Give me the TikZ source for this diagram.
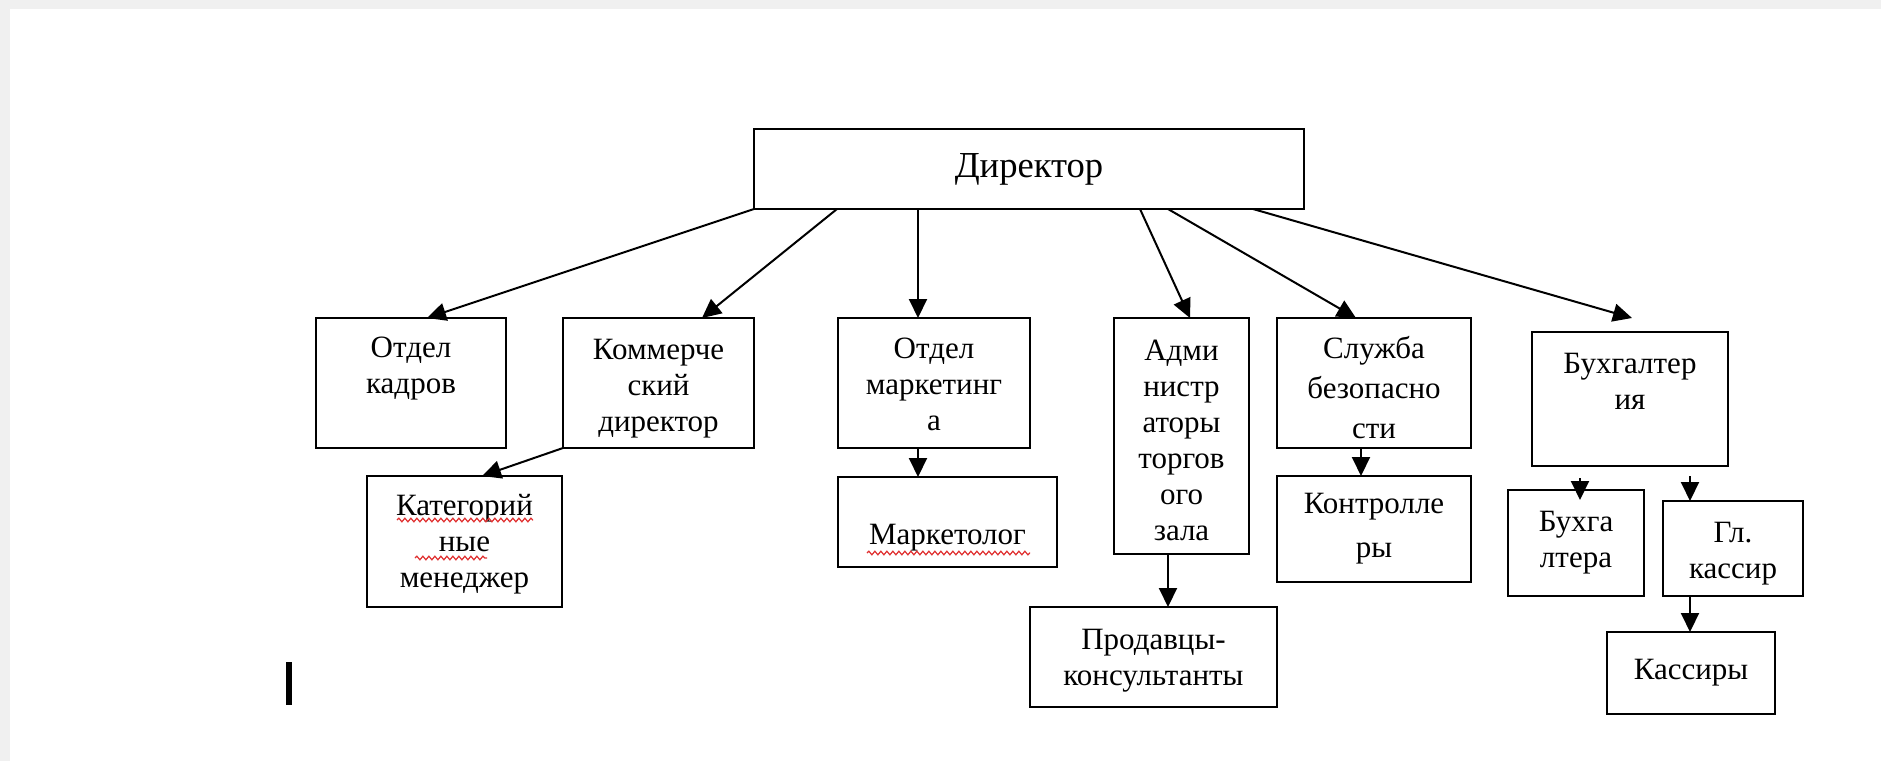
\documentclass[tikz,border=0pt]{standalone}
\usepackage{fontspec}
\setmainfont{Liberation Serif}
\usetikzlibrary{calc,arrows.meta,decorations.pathmorphing}
\definecolor{framegray}{HTML}{F0F0F0}
\definecolor{squigred}{HTML}{E03030}
\newcommand\tdown[1]{\rule{0pt}{#1}}
\begin{document}
\begin{tikzpicture}[x=0.5pt,y=-0.5pt,
  bx/.style={draw=black, line width=1.3pt, rectangle, inner sep=0pt, outer sep=0pt, align=center,
    font=\fontsize{15.5pt}{18pt}\selectfont},
  arr/.style={line width=1pt, -{Triangle[length=9.5pt,width=9pt]}},
  squig/.style={squigred, line width=0.6pt, decorate,
    decoration={snake, amplitude=0.9pt, segment length=3pt}}]
\useasboundingbox (0,0) rectangle (1881,761);
\fill[framegray] (0,0) rectangle (1881,761);
\fill[white] (10,9) rectangle (1881,761);

% boxes
\node[bx, minimum width=275pt, minimum height=40pt, font=\fontsize{18.3pt}{21pt}\selectfont] (dir) at (1029,169) {Директор};
\node[bx, minimum width=95pt, minimum height=65pt] (kadr) at (411,383) {Отдел\\кадров\\~};
\node[bx, minimum width=95.5pt, minimum height=65pt] (komm) at (658.5,383) {\tdown{15.3pt}Коммерче\\ский\\директор};
\node[bx, minimum width=97.5pt, minimum height=65.5pt] (kat) at (464.5,541.5) {\tdown{13.7pt}Категорий\\ные\\менеджер};
\node[bx, minimum width=96pt, minimum height=65pt] (mark) at (934,383) {\tdown{12pt}Отдел\\маркетинг\\а};
\node[bx, minimum width=109.5pt, minimum height=45pt] (mtol) at (947.5,522) {\tdown{26pt}Маркетолог};
\node[bx, minimum width=67.5pt, minimum height=118pt] (adm) at (1181.5,436) {\tdown{14.3pt}Адми\\нистр\\аторы\\торгов\\ого\\зала};
\node[bx, minimum width=123.5pt, minimum height=50pt] (prod) at (1153.5,657) {\tdown{14.3pt}Продавцы-\\консультанты};
\node[bx, minimum width=97pt, minimum height=65pt, font=\fontsize{15.5pt}{20pt}\selectfont] (sluzh) at (1374,383) {\tdown{16pt}Служба\\безопасно\\сти};
\node[bx, minimum width=97pt, minimum height=53pt, font=\fontsize{15.5pt}{22pt}\selectfont] (kontr) at (1374,529) {Контролле\\ры};
\node[bx, minimum width=98pt, minimum height=67pt] (buh) at (1630,399) {Бухгалтер\\ия\\~};
\node[bx, minimum width=68pt, minimum height=53pt] (bhg) at (1576,543) {Бухга\\лтера};
\node[bx, minimum width=70pt, minimum height=47.5pt] (gk) at (1733,548.5) {\tdown{15.3pt}Гл.\\кассир};
\node[bx, minimum width=84pt, minimum height=41pt] (kas) at (1691,673) {Кассиры};

% connectors from director
\draw[arr] (dir.south west) -- ($(kadr.north)+(16,0)$);
\draw[arr] ($(dir.south west)+(83,0)$) -- ($(komm.north)+(43.5,0)$);
\draw[arr] ($(dir.south west)+(164,0)$) -- ($(mark.north)+(-16,0)$);
\draw[arr] ($(dir.south west)+(386,0)$) -- ($(adm.north)+(8.5,0)$);
\draw[arr] ($(dir.south west)+(414,0)$) -- ($(sluzh.north)+(-18,0)$);
\draw[arr] ($(dir.south west)+(499,0)$) -- ($(buh.north)+(2,-14)$);

% second level connectors
\draw[arr] (komm.south west) -- ($(kat.north)+(17.5,0)$);
\draw[arr] ($(mark.south)+(-16,0)$) -- ($(mtol.north)+(-29.5,0)$);
\draw[arr] ($(adm.south)+(-13.5,0)$) -- ($(prod.north)+(14.5,0)$);
\draw[arr] ($(sluzh.south)+(-13,0)$) -- ($(kontr.north)+(-13,0)$);
\draw[arr] ($(buh.south)+(-50,12)$) -- ($(bhg.north)+(4,10)$);
\draw[arr] ($(buh.south)+(60,10)$) -- ($(gk.north)+(-43,0)$);
\draw[arr] ($(gk.south)+(-43,0)$) -- ($(kas.north)+(-1,0)$);

% spell-check squiggles
\draw[squig] (397,520) -- (533,520);
\draw[squig] (415,558) -- (487,558);
\draw[squig] (867,553) -- (1030,553);

% text cursor
\fill[black] (286,662) rectangle (292,705);
\end{tikzpicture}
\end{document}
